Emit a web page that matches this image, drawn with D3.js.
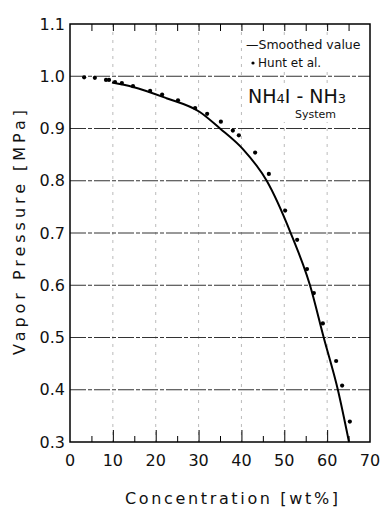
<!DOCTYPE html>
<html><head><meta charset="utf-8">
<script src="https://cdn.jsdelivr.net/npm/d3@7"></script>
<style>html,body{margin:0;padding:0;background:#fff}svg{display:block}</style>
</head><body>
<script>
// Data
const xTicks = [0,10,20,30,40,50,60,70];
const yTicks = [0.3,0.4,0.5,0.6,0.7,0.8,0.9,1.0,1.1];
const huntX = [3.3,5.8,8.4,9.1,10.5,12.1,14.7,18.7,21.5,25.2,29.2,32.0,35.2,38.0,39.4,43.2,46.4,50.2,53.0,55.3,56.9,59.0,62.1,63.5,65.3];
const huntY = [0.998,0.997,0.993,0.993,0.989,0.987,0.981,0.972,0.965,0.954,0.939,0.928,0.913,0.896,0.887,0.854,0.813,0.743,0.687,0.631,0.585,0.527,0.455,0.408,0.339];
const smoothX = [9.8,14.5,22.5,30.2,35.0,40.4,45.9,51.5,56.0,59.2,62.5,65.1];
const smoothY = [0.988,0.980,0.958,0.932,0.900,0.860,0.800,0.700,0.600,0.500,0.400,0.300];

const W=381,H=511;
const L=70,R=370,T=24,B=442;
const svg=d3.select("body").append("svg").attr("width",W).attr("height",H);
const x=d3.scaleLinear().domain([0,70]).range([L,R]);
const y=d3.scaleLinear().domain([0.3,1.1]).range([B,T]);
const font="DejaVu Sans";

// vertical faint gridlines
svg.append("g").selectAll("line").data(xTicks.filter(d=>d>0&&d<70)).join("line")
  .attr("x1",d=>x(d)).attr("x2",d=>x(d)).attr("y1",T).attr("y2",B)
  .attr("stroke","#aaa").attr("stroke-width",0.8).attr("stroke-dasharray","3 5");
// horizontal gridlines
svg.append("g").selectAll("line").data(yTicks.filter(d=>d>0.3&&d<1.1)).join("line")
  .attr("x1",L).attr("x2",R).attr("y1",d=>y(d)).attr("y2",d=>y(d))
  .attr("stroke","#333").attr("stroke-width",1).attr("stroke-dasharray","16 2 4 2");

// white backing behind legend text
svg.append("rect").attr("x",244).attr("y",35).attr("width",122).attr("height",36).attr("fill","#fff");
svg.append("rect").attr("x",244).attr("y",84).attr("width",104).attr("height",38).attr("fill","#fff");

// axes frame
svg.append("rect").attr("x",L).attr("y",T).attr("width",R-L).attr("height",B-T)
  .attr("fill","none").attr("stroke","#000").attr("stroke-width",1.5);
// bottom ticks inward
const gb=svg.append("g").attr("transform",`translate(0,${B})`).call(d3.axisTop(x).tickValues(d3.range(5,70,5)).tickSize(0).tickFormat(""));
gb.select(".domain").remove();
gb.selectAll(".tick").append("line").attr("y2",d=>d%10===0?-12:-6).attr("stroke","#000").attr("stroke-width",1);
// top ticks inward
const gt=svg.append("g").attr("transform",`translate(0,${T})`).call(d3.axisBottom(x).tickValues(d3.range(5,70,5)).tickSize(7).tickFormat(""));
gt.select(".domain").remove();
gt.selectAll(".tick line").attr("stroke","#000");

// tick labels
svg.append("g").selectAll("text").data(xTicks).join("text")
  .attr("x",d=>x(d)).attr("y",466).attr("text-anchor","middle")
  .attr("font-family",font).attr("font-size",16).attr("fill","#111").text(d=>d);
svg.append("g").selectAll("text").data(yTicks).join("text")
  .attr("x",65).attr("y",d=>y(d)).attr("dy","0.35em").attr("text-anchor","end")
  .attr("font-family",font).attr("font-size",16).attr("fill","#111").text(d=>d.toFixed(1));

// axis titles
svg.append("text").attr("x",125).attr("y",504).attr("textLength",213).attr("lengthAdjust","spacing")
  .attr("font-family",font).attr("font-size",16).attr("fill","#111").text("Concentration [wt%]");
svg.append("text").attr("transform","translate(25,355) rotate(-90)").attr("textLength",245).attr("lengthAdjust","spacing")
  .attr("font-family",font).attr("font-size",16).attr("fill","#111").text("Vapor  Pressure [MPa]");

// smoothed curve
const line=d3.line().x((d,i)=>x(smoothX[i])).y((d,i)=>y(smoothY[i])).curve(d3.curveMonotoneX);
svg.append("path").datum(smoothX).attr("d",line).attr("fill","none").attr("stroke","#000").attr("stroke-width",2);

// Hunt points
svg.append("g").selectAll("circle").data(huntX).join("circle")
  .attr("cx",d=>x(d)).attr("cy",(d,i)=>y(huntY[i])).attr("r",2.1).attr("fill","#000");

// legend
svg.append("text").attr("x",246).attr("y",49).attr("font-family",font).attr("font-size",12.5).attr("fill","#111").text("\u2014Smoothed value");
svg.append("circle").attr("cx",253).attr("cy",63).attr("r",1.6).attr("fill","#000");
svg.append("text").attr("x",258).attr("y",67).attr("font-family",font).attr("font-size",12).attr("fill","#111").text("Hunt et al.");
const t=svg.append("text").attr("x",248).attr("y",103).attr("font-family",font).attr("font-size",19).attr("fill","#111");
t.append("tspan").text("NH");
t.append("tspan").attr("font-size",13).text("4");
t.append("tspan").text("I - NH");
t.append("tspan").attr("font-size",13).text("3");
svg.append("text").attr("x",295).attr("y",118).attr("font-family",font).attr("font-size",11).attr("fill","#111").text("System");
</script>
</body></html>
